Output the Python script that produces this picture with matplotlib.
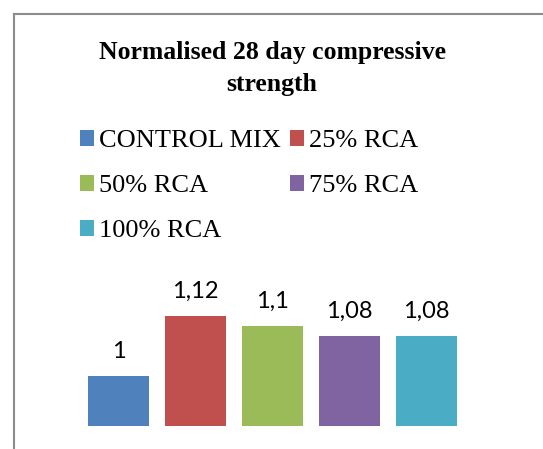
import matplotlib
matplotlib.use("Agg")
import matplotlib.pyplot as plt
from matplotlib.lines import Line2D
from matplotlib.patches import Patch

title = "Normalised 28 day compressive\nstrength"
categories = ["CONTROL MIX", "25% RCA", "50% RCA", "75% RCA", "100% RCA"]
values = [1.0, 1.12, 1.1, 1.08, 1.08]
colors = ["#4F81BD", "#C0504D", "#9BBB59", "#8064A2", "#4BACC6"]

W, H = 543, 449
fig = plt.figure(figsize=(W / 100, H / 100), dpi=100)

def fx(px):
    return px / W

def fy(py):
    return 1 - py / H

# plot area
ax = fig.add_axes([fx(80), fy(426), fx(465) - fx(80), fy(256) - fy(426)])
x = list(range(len(values)))
bars = ax.bar(x, values, width=0.8, color=colors, bottom=0)
ax.set_xlim(-0.5, len(values) - 0.5)
ax.set_ylim(0.9, 1.24)
ax.axis("off")

for xi, v in zip(x, values):
    ax.annotate(f"{v:g}".replace(".", ","), (xi, v), xytext=(0, 13),
                textcoords="offset points", ha="center", va="baseline",
                fontsize=17, family=["Lato", "DejaVu Sans"], color="#000000")

# title
fig.text(fx(272), fy(41), title, ha="center", va="top", fontsize=18.5,
         fontweight="bold", family=["Liberation Serif"], linespacing=1.5)

# legend (row-major order as in reference)
handles = [Patch(facecolor=c, edgecolor="none") for c in colors]
order = [0, 2, 4, 1, 3]
leg = fig.legend([handles[i] for i in order], [categories[i] for i in order],
                 loc="upper left", bbox_to_anchor=(fx(80), fy(130)), ncol=2,
                 frameon=False, borderpad=0, borderaxespad=0,
                 prop={"family": "Liberation Serif", "size": 19},
                 handlelength=0.53, handleheight=0.53, handletextpad=0.2,
                 columnspacing=0.34, labelspacing=0.87)

# outer chart border (left and top)
fig.add_artist(Line2D([fx(13.5), fx(13.5)], [0, fy(13.5)], color="#8C8C8C",
                      lw=1.5, transform=fig.transFigure))
fig.add_artist(Line2D([fx(13.5), 1], [fy(13.5), fy(13.5)], color="#8C8C8C",
                      lw=1.5, transform=fig.transFigure))

fig.savefig("out.png", dpi=100)
